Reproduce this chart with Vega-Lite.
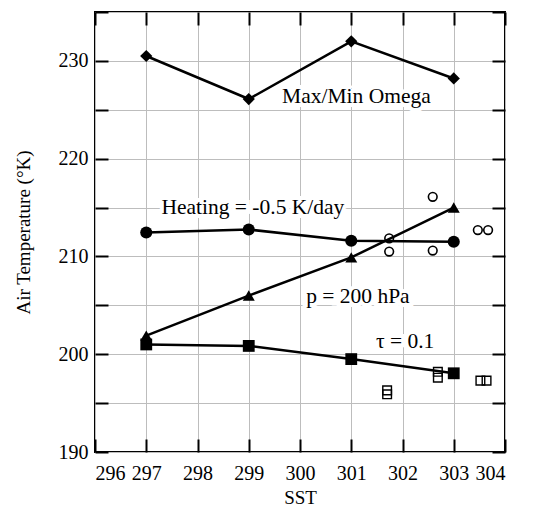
{
  "$schema": "https://vega.github.io/schema/vega-lite/v6.json",
  "width": 410,
  "height": 440,
  "autosize": {"type": "none"},
  "padding": {"left": 95, "top": 12, "right": 28, "bottom": 55},
  "background": "white",
  "config": {
    "font": "Liberation Serif",
    "view": {"stroke": "black", "strokeWidth": 2},
    "axis": {"labelFont": "Liberation Serif", "titleFont": "Liberation Serif", "labelColor": "black", "titleColor": "black", "titleFontWeight": "normal", "labelFontSize": 20, "titleFontSize": 19}
  },
  "datasets": {
    "series": [
      {"series": "omega", "sst": 297, "temp": 230.5},
      {"series": "omega", "sst": 299, "temp": 226.1},
      {"series": "omega", "sst": 301, "temp": 232.0},
      {"series": "omega", "sst": 303, "temp": 228.2},
      {"series": "heating", "sst": 297, "temp": 212.45},
      {"series": "heating", "sst": 299, "temp": 212.75},
      {"series": "heating", "sst": 301, "temp": 211.6},
      {"series": "heating", "sst": 303, "temp": 211.5},
      {"series": "p200", "sst": 297, "temp": 201.9},
      {"series": "p200", "sst": 299, "temp": 206.0},
      {"series": "p200", "sst": 301, "temp": 209.9},
      {"series": "p200", "sst": 303, "temp": 215.0},
      {"series": "tau", "sst": 297, "temp": 201.0},
      {"series": "tau", "sst": 299, "temp": 200.85},
      {"series": "tau", "sst": 301, "temp": 199.5},
      {"series": "tau", "sst": 303, "temp": 198.05}
    ],
    "opencircles": [
      {"sst": 301.74, "temp": 211.85},
      {"sst": 301.74, "temp": 210.5},
      {"sst": 302.59, "temp": 216.1},
      {"sst": 302.59, "temp": 210.6},
      {"sst": 303.47, "temp": 212.7},
      {"sst": 303.67, "temp": 212.7}
    ],
    "opensquares": [
      {"sst": 301.7, "temp": 195.9},
      {"sst": 301.7, "temp": 196.3},
      {"sst": 302.69, "temp": 198.2},
      {"sst": 302.69, "temp": 197.6},
      {"sst": 303.52, "temp": 197.3},
      {"sst": 303.64, "temp": 197.3}
    ],
    "labels": [
      {"text": "Max/Min Omega", "sst": 301.1, "temp": 226.3},
      {"text": "Heating = -0.5 K/day", "sst": 299.08, "temp": 214.95},
      {"text": "p = 200 hPa", "sst": 301.13, "temp": 205.85},
      {"text": "τ = 0.1", "sst": 302.05, "temp": 201.3}
    ]
  },
  "resolve": {"axis": {"x": "independent", "y": "independent"}},
  "layer": [
    {
      "data": {"name": "series"},
      "mark": {"type": "line", "color": "black", "strokeWidth": 2.5},
      "encoding": {
        "x": {"field": "sst", "type": "quantitative", "scale": {"domain": [296, 304], "nice": false, "zero": false},
          "axis": {"orient": "bottom", "title": "SST", "values": [296,297,298,299,300,301,302,303,304], "labelOverlap": false, "grid": true, "gridColor": "#bdbdbd", "gridWidth": 1, "domain": false, "tickColor": "black", "tickWidth": 2, "tickSize": -13, "labelPadding": 24, "titlePadding": 5}},
        "y": {"field": "temp", "type": "quantitative", "scale": {"domain": [190, 235], "nice": false, "zero": false},
          "axis": {"orient": "left", "title": "Air Temperature (°K)", "values": [190,195,200,205,210,215,220,225,230,235], "labelExpr": "datum.value % 10 == 0 && datum.value < 235 ? datum.label : ''", "grid": true, "gridColor": "#bdbdbd", "gridWidth": 1, "domain": false, "tickColor": "black", "tickWidth": 2, "tickSize": -13, "labelPadding": 20, "titlePadding": 25}},
        "detail": {"field": "series"}
      }
    },
    {
      "data": {"name": "series"},
      "mark": {"type": "point", "filled": true, "color": "black", "opacity": 1},
      "encoding": {
        "x": {"field": "sst", "type": "quantitative", "axis": null},
        "y": {"field": "temp", "type": "quantitative", "axis": null},
        "shape": {"field": "series", "type": "nominal", "legend": null, "scale": {"domain": ["omega", "heating", "p200", "tau"], "range": ["diamond", "circle", "triangle-up", "square"]}},
        "size": {"field": "series", "type": "nominal", "legend": null, "scale": {"domain": ["omega", "heating", "p200", "tau"], "range": [150, 140, 110, 130]}}
      }
    },
    {
      "data": {"name": "opencircles"},
      "mark": {"type": "point", "shape": "circle", "filled": false, "color": "black", "strokeWidth": 1.6, "size": 75, "opacity": 1},
      "encoding": {
        "x": {"field": "sst", "type": "quantitative", "axis": null},
        "y": {"field": "temp", "type": "quantitative", "axis": null}
      }
    },
    {
      "data": {"name": "opensquares"},
      "mark": {"type": "point", "shape": "square", "filled": false, "color": "black", "strokeWidth": 1.4, "size": 75, "opacity": 1},
      "encoding": {
        "x": {"field": "sst", "type": "quantitative", "axis": null},
        "y": {"field": "temp", "type": "quantitative", "axis": null}
      }
    },
    {
      "data": {"name": "labels"},
      "mark": {"type": "text", "font": "Liberation Serif", "fontSize": 21.5, "color": "white", "stroke": "white", "strokeWidth": 8, "align": "center", "baseline": "middle"},
      "encoding": {
        "x": {"field": "sst", "type": "quantitative", "axis": null},
        "y": {"field": "temp", "type": "quantitative", "axis": null},
        "text": {"field": "text"}
      }
    },
    {
      "data": {"name": "labels"},
      "mark": {"type": "text", "font": "Liberation Serif", "fontSize": 21.5, "color": "black", "align": "center", "baseline": "middle"},
      "encoding": {
        "x": {"field": "sst", "type": "quantitative", "axis": null},
        "y": {"field": "temp", "type": "quantitative", "axis": null},
        "text": {"field": "text"}
      }
    },
    {
      "data": {"name": "series"},
      "mark": {"type": "rule", "opacity": 0},
      "encoding": {
        "x": {"field": "sst", "type": "quantitative",
          "axis": {"orient": "top", "title": null, "labels": false, "values": [296,297,298,299,300,301,302,303,304], "grid": false, "domain": false, "tickColor": "black", "tickWidth": 2, "tickSize": -13}},
        "y": {"field": "temp", "type": "quantitative",
          "axis": {"orient": "right", "title": null, "labels": false, "values": [190,195,200,205,210,215,220,225,230,235], "grid": false, "domain": false, "tickColor": "black", "tickWidth": 2, "tickSize": -13}}
      }
    }
  ]
}
